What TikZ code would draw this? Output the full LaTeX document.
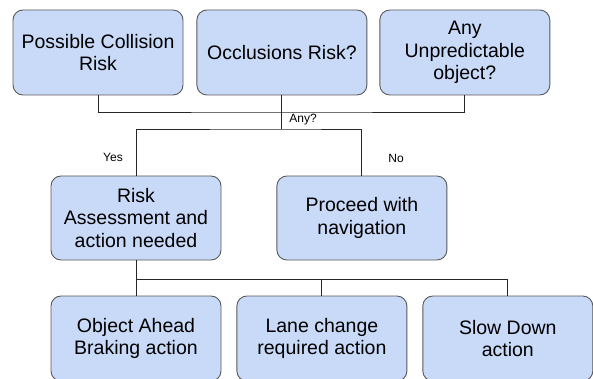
\documentclass[tikz,border=0pt]{standalone}
\usepackage{fontspec}
\setmainfont{Liberation Sans}
\usepackage{xcolor}
\usepackage{tikz}
\usetikzlibrary{positioning, calc}

\definecolor{boxfill}{HTML}{C9DAF8}
\definecolor{boxline}{HTML}{595959}

\begin{document}
\begin{tikzpicture}[
                x=1pt, y=-1pt,
                node distance=13pt,
                block/.style={rectangle, rounded corners=10pt, draw=boxline, fill=boxfill, line width=0.9pt,
                    minimum width=170pt, minimum height=85pt, align=center,
                    font=\fontsize{19.5}{22.5}\selectfont},
                lbl/.style={font=\fontsize{12}{14}\selectfont, inner sep=1pt},
                link/.style={draw=black!85, line width=0.9pt}
            ]
                \useasboundingbox (0,0) rectangle (593,379);

                % Questions
                \node[block] (collision) at (98,52.5) {Possible Collision\\Risk};
                \node[block, right=of collision] (occlusion) {Occlusions Risk?};
                \node[block, right=12pt of occlusion] (unpredictable) {Any\\Unpredictable\\object?};

                % Decision
                \node[block, minimum height=84pt] (risk) at (136,218) {Risk\\Assessment and\\action needed};
                \node[block, minimum height=84pt, right=55pt of risk] (proceed) {Proceed with\\navigation};

                % Actions
                \node[block] (braking) at (136,338.5) {Object Ahead\\Braking action};
                \node[block, right=15pt of braking] (lane) {Lane change\\required action};
                \node[block, right=15pt of lane] (slow) {Slow Down\\action};

                % Junctions
                \coordinate (merge) at (occlusion.south |- 0,112);
                \coordinate (split) at (occlusion.south |- 0,129);
                \coordinate (fork) at (risk.south |- 0,279);

                % Edges
                \path[link]
                    (collision.south) |- (merge) -| (unpredictable.south)
                    (occlusion.south) -- (split)
                    (risk.north) |- (split) -| (proceed.north)
                    (risk.south) -- (braking.north)
                    (fork) -| (lane.north)
                    (fork) -| (slow.north);

                % Labels
                \node[lbl] (anylbl) at (303,120) {Any?};
                \node[lbl] (yeslbl) at (113,157) {Yes};
                \node[lbl] (nolbl) at (396,158) {No};
            \end{tikzpicture}
\end{document}
